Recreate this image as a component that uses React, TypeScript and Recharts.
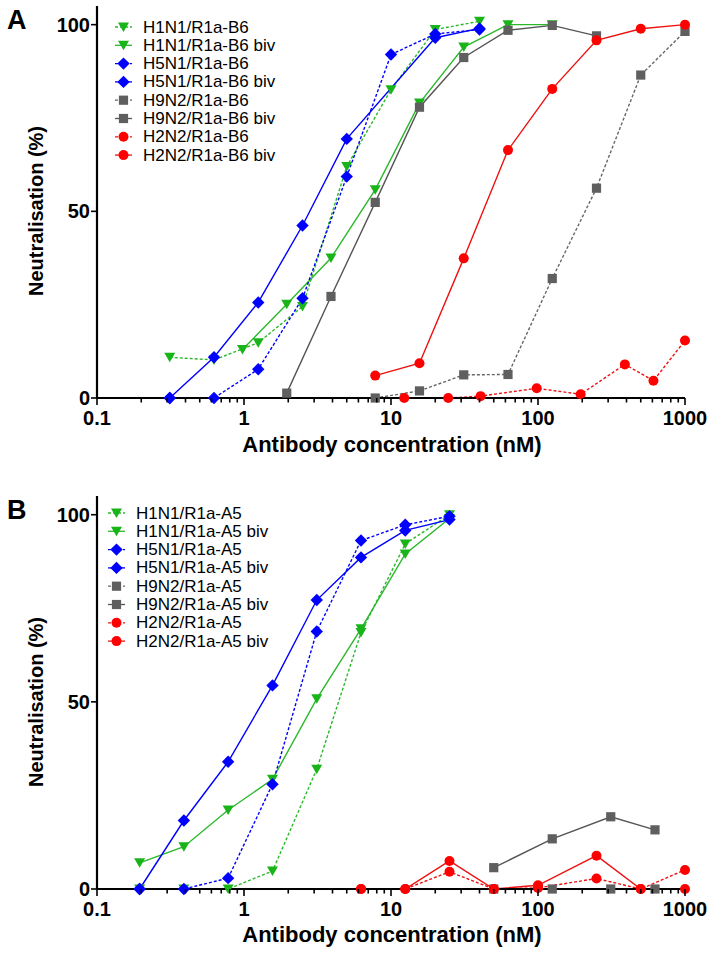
import { LineChart, Line, XAxis, YAxis, Legend } from "recharts";

// ---------- panel A : R1a-B6 ----------
const concA_h1 = [0.3125, 0.625, 1.25, 2.5, 5, 10, 20, 40];
const valA_h1 = [10.9, 10.2, 14.8, 24.5, 62, 82.6, 98.7, 100.9];
const concA_h1biv = [0.977, 1.953, 3.906, 7.8125, 15.625, 31.25, 62.5, 125];
const valA_h1biv = [13, 25.1, 37.5, 55.8, 79, 94, 100, 100];

const concA_h5 = [0.3125, 0.625, 1.25, 2.5, 5, 10, 20, 40];
const valA_h5 = [0, 0, 7.7, 26.7, 59.3, 92, 97.5, 98.7];
const concA_h5biv = [0.3125, 0.625, 1.25, 2.5, 5, 20, 40];
const valA_h5biv = [0, 10.9, 25.6, 46.2, 69.4, 96.5, 99];

const concA_h9 = [7.8125, 15.625, 31.25, 62.5, 125, 250, 500, 1000];
const valA_h9 = [0, 1.9, 6.2, 6.3, 32, 56.2, 86.5, 98.2];
const concA_h9biv = [1.953, 3.906, 7.8125, 15.625, 31.25, 62.5, 125, 250];
const valA_h9biv = [1.3, 27.2, 52.4, 77.9, 91.2, 98.5, 99.8, 97];

const concA_h2 = [12.3, 24.5, 40.7, 98, 195, 390, 610, 1000];
const valA_h2 = [0, 0, 0.5, 2.6, 1.0, 9, 4.6, 15.4];
const concA_h2biv = [7.8125, 15.625, 31.25, 62.5, 125, 250, 500, 1000];
const valA_h2biv = [6, 9.3, 37.4, 66.4, 82.8, 95.8, 98.9, 100];

// ---------- panel B : R1a-A5 ----------
const concB_low = [0.195, 0.39, 0.78, 1.5625, 3.125, 6.25, 12.5, 25];
const valB_h1 = [0, 0, 0, 4.8, 32, 68.5, 92.2, 100];
const valB_h1biv = [7, 11.3, 21.1, 29.3, 50.8, 69.5, 89.5, 99];
const valB_h5 = [0, 0, 2.9, 28, 68.8, 93.1, 97.3, 99.6];
const valB_h5biv = [0, 18.3, 34, 54.4, 77.2, 88.6, 95.8, 98.7];

const concB_h9 = [50, 125, 312.5, 625];
const valB_h9 = [0, 0, 0, 0];
const valB_h9biv = [5.7, 13.4, 19.3, 15.8];

const concB_h2 = [6.25, 12.5, 25, 50, 100, 250, 500, 1000];
const valB_h2 = [0, 0, 4.6, 0, 0.3, 2.8, 0, 5.1];
const valB_h2biv = [0, 0, 7.5, 0, 1.0, 8.9, 0, 0];

const MAJOR_TICKS = [0.1, 1, 10, 100, 1000];
const Y_TICKS = [0, 50, 100];

const X_TICKS: number[] = [];
[0.1, 1, 10, 100].forEach((d) => {
  for (let m = 1; m < 10; m++) X_TICKS.push(+(d * m).toPrecision(3));
});
X_TICKS.push(1000);

type Shape = "tri" | "diamond" | "square" | "circle";

interface Series {
  name: string;
  conc: number[];
  values: number[];
  color: string;
  line: string;
  shape: Shape;
  dashed: boolean;
}

const GREEN = "#19b419";
const BLUE = "#0000ff";
const GREY = "#5f5f5f";
const RED = "#ff0000";

function makeSeries(tag: string, s: number[][]): Series[] {
  const [c1, v1, c1b, v1b, c5, v5, c5b, v5b, c9, v9, c9b, v9b, c2, v2, c2b, v2b] = s;
  return [
    { name: `H1N1/${tag}`, conc: c1, values: v1, color: GREEN, line: "#2cb82c", shape: "tri", dashed: true },
    { name: `H1N1/${tag} biv`, conc: c1b, values: v1b, color: GREEN, line: "#2cb82c", shape: "tri", dashed: false },
    { name: `H5N1/${tag}`, conc: c5, values: v5, color: BLUE, line: BLUE, shape: "diamond", dashed: true },
    { name: `H5N1/${tag} biv`, conc: c5b, values: v5b, color: BLUE, line: BLUE, shape: "diamond", dashed: false },
    { name: `H9N2/${tag}`, conc: c9, values: v9, color: GREY, line: "#666666", shape: "square", dashed: true },
    { name: `H9N2/${tag} biv`, conc: c9b, values: v9b, color: GREY, line: "#555555", shape: "square", dashed: false },
    { name: `H2N2/${tag}`, conc: c2, values: v2, color: RED, line: "#ee1111", shape: "circle", dashed: true },
    { name: `H2N2/${tag} biv`, conc: c2b, values: v2b, color: RED, line: "#ee1111", shape: "circle", dashed: false },
  ];
}

const seriesA = makeSeries("R1a-B6", [
  concA_h1, valA_h1, concA_h1biv, valA_h1biv,
  concA_h5, valA_h5, concA_h5biv, valA_h5biv,
  concA_h9, valA_h9, concA_h9biv, valA_h9biv,
  concA_h2, valA_h2, concA_h2biv, valA_h2biv,
]);

const seriesB = makeSeries("R1a-A5", [
  concB_low, valB_h1, concB_low, valB_h1biv,
  concB_low, valB_h5, concB_low, valB_h5biv,
  concB_h9, valB_h9, concB_h9, valB_h9biv,
  concB_h2, valB_h2, concB_h2, valB_h2biv,
]);

const FONT = "'Liberation Sans', Arial, sans-serif";

function Marker({ shape, cx, cy, color }: { shape: Shape; cx: number; cy: number; color: string }) {
  if (shape === "tri") {
    return <polygon points={`${cx - 5.5},${cy - 4.5} ${cx + 5.5},${cy - 4.5} ${cx},${cy + 5}`} fill={color} />;
  }
  if (shape === "diamond") {
    return <polygon points={`${cx},${cy - 6.2} ${cx + 6.2},${cy} ${cx},${cy + 6.2} ${cx - 6.2},${cy}`} fill={color} />;
  }
  if (shape === "square") {
    return <rect x={cx - 4.6} y={cy - 4.6} width={9.2} height={9.2} fill={color} />;
  }
  return <circle cx={cx} cy={cy} r={5} fill={color} />;
}

function XTick(props: any) {
  const { x, y, payload } = props;
  const v = payload.value as number;
  const major = MAJOR_TICKS.includes(v);
  return (
    <g>
      <line x1={x} x2={x} y1={y} y2={y + (major ? 7 : 4.5)} stroke="#000" strokeWidth={1.6} />
      {major && (
        <text x={x} y={y + 27} textAnchor="middle" fontSize={20} fontWeight="bold" fontFamily={FONT} fill="#000">
          {v}
        </text>
      )}
    </g>
  );
}

function YTick(props: any) {
  const { x, y, payload } = props;
  return (
    <g>
      <line x1={x - 6} x2={x} y1={y} y2={y} stroke="#000" strokeWidth={1.6} />
      <text x={x - 7} y={y + 7} textAnchor="end" fontSize={20} fontWeight="bold" fontFamily={FONT} fill="#000">
        {payload.value}
      </text>
    </g>
  );
}

function LegendBox({ series, lineX, textX }: { series: Series[]; lineX: number; textX: number }) {
  const rowH = 18.3;
  return (
    <svg width={200} height={rowH * series.length + 4} style={{ display: "block", overflow: "visible" }}>
      {series.map((s, i) => {
        const cy = rowH * i + 9;
        return (
          <g key={s.name}>
            <line
              x1={0}
              x2={lineX * 2}
              y1={cy}
              y2={cy}
              stroke={s.line}
              strokeWidth={1.3}
              strokeDasharray={s.dashed ? "3 2" : undefined}
            />
            <Marker shape={s.shape} cx={lineX} cy={cy} color={s.color} />
            <text x={textX} y={cy + 5.5} fontSize={17} fontFamily={FONT} fill="#000">
              {s.name}
            </text>
          </g>
        );
      })}
    </svg>
  );
}

function Panel({
  series,
  top,
  marginTop,
  xAxisHeight,
  legendLeft,
  legendTop,
}: {
  series: Series[];
  top: number;
  marginTop: number;
  xAxisHeight: number;
  legendLeft: number;
  legendTop: number;
}) {
  return (
    <div style={{ position: "absolute", left: 0, top }}>
      <LineChart width={715} height={477} margin={{ top: marginTop, right: 30, left: 0, bottom: 0 }}>
        <XAxis
          dataKey="x"
          type="number"
          scale="log"
          domain={[0.1, 1000]}
          ticks={X_TICKS}
          interval={0}
          tickSize={0}
          tickMargin={0}
          tick={<XTick />}
          tickLine={false}
          axisLine={{ stroke: "#000", strokeWidth: 2.2 }}
          height={xAxisHeight}
        />
        <YAxis
          type="number"
          domain={[0, 105]}
          ticks={Y_TICKS}
          interval={0}
          tickSize={0}
          tickMargin={0}
          tick={<YTick />}
          tickLine={false}
          axisLine={{ stroke: "#000", strokeWidth: 2.2 }}
          width={97}
        />
        <Legend
          layout="vertical"
          align="center"
          verticalAlign="middle"
          wrapperStyle={{ left: legendLeft, top: legendTop, width: 200 }}
          content={() => <LegendBox series={series} lineX={8.5} textX={28} />}
        />
        {series.map((s) => (
          <Line
            key={s.name}
            name={s.name}
            data={s.conc.map((c, i) => ({ x: c, y: s.values[i] }))}
            dataKey="y"
            stroke={s.line}
            strokeWidth={1.4}
            strokeDasharray={s.dashed ? "3 2" : undefined}
            dot={(p: any) => <Marker key={`${s.name}-${p.index}`} shape={s.shape} cx={p.cx} cy={p.cy} color={s.color} />}
            activeDot={false}
            isAnimationActive={false}
          />
        ))}
      </LineChart>
    </div>
  );
}

export default function App() {
  return (
    <div style={{ position: "absolute", left: 0, top: 0, width: 715, height: 954, background: "#fff", fontFamily: FONT }}>
      <Panel series={seriesA} top={0} marginTop={6} xAxisHeight={79} legendLeft={115} legendTop={17.5} />
      <Panel series={seriesB} top={477} marginTop={19} xAxisHeight={65} legendLeft={108} legendTop={27} />
      <svg width={715} height={954} style={{ position: "absolute", left: 0, top: 0, pointerEvents: "none" }}>
        <g fontFamily={FONT} fontWeight="bold" fill="#000">
          <text x={7} y={29} fontSize={27}>A</text>
          <text x={7} y={519} fontSize={27}>B</text>
          <text x={392} y={452} fontSize={22} textAnchor="middle">Antibody concentration (nM)</text>
          <text x={392} y={942} fontSize={22} textAnchor="middle">Antibody concentration (nM)</text>
          <text transform="translate(43,211) rotate(-90)" fontSize={20} textAnchor="middle">Neutralisation (%)</text>
          <text transform="translate(43,702) rotate(-90)" fontSize={20} textAnchor="middle">Neutralisation (%)</text>
        </g>
      </svg>
    </div>
  );
}
